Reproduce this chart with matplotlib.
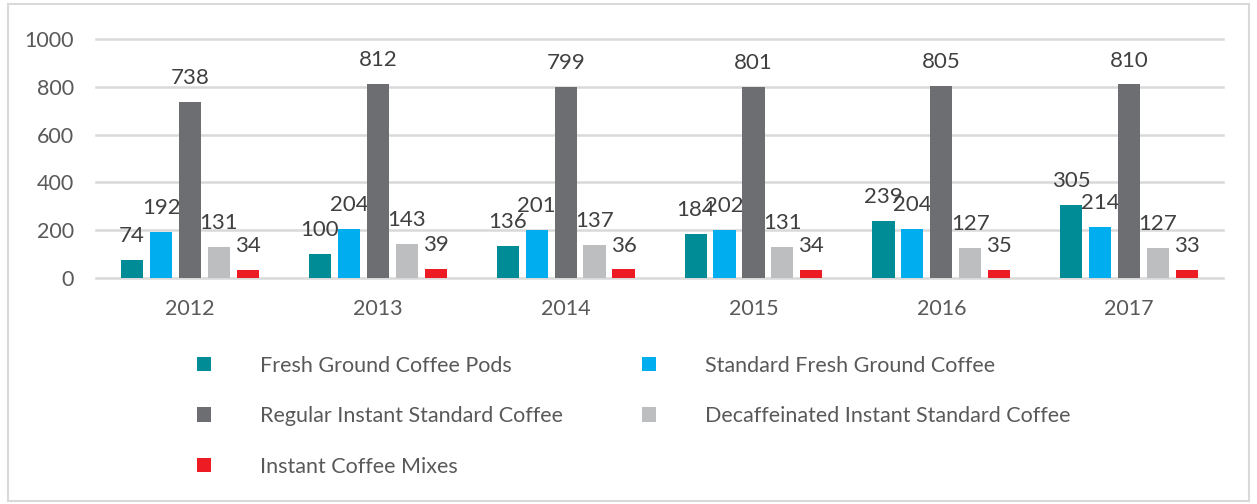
import numpy as np
import matplotlib
matplotlib.use("Agg")
from matplotlib import pyplot as plt
from matplotlib.patches import Rectangle, Patch

years = ["2012", "2013", "2014", "2015", "2016", "2017"]
series_names = [
    "Fresh Ground Coffee Pods",
    "Standard Fresh Ground Coffee",
    "Regular Instant Standard Coffee",
    "Decaffeinated Instant Standard Coffee",
    "Instant Coffee Mixes",
]
pods = [74, 100, 136, 184, 239, 305]
standard_ground = [192, 204, 201, 202, 204, 214]
regular_instant = [738, 812, 799, 801, 805, 810]
decaf_instant = [131, 143, 137, 131, 127, 127]
instant_mixes = [34, 39, 36, 34, 35, 33]

colors = ["#008C96", "#00AEEF", "#6D6E71", "#BCBEC0", "#ED1C24"]
text_color = "#595959"

plt.rcParams["font.family"] = ["Lato", "DejaVu Sans"]

fig = plt.figure(figsize=(12.57, 5.04), dpi=100)
ax = fig.add_axes([0.0764, 0.4484, 0.8966, 0.4742])

# outer chart border
fig.patches.append(Rectangle((0.006, 0.006), 0.988, 0.986, transform=fig.transFigure,
                             fill=False, edgecolor="#D9D9D9", linewidth=1.5))

x = np.arange(len(years))
slot = 0.154
width = 0.118
all_series = [pods, standard_ground, regular_instant, decaf_instant, instant_mixes]

for i, (vals, c) in enumerate(zip(all_series, colors)):
    pos = x + (i - 2) * slot
    bars = ax.bar(pos, vals, width, color=c, zorder=3, label=series_names[i])
    for b, v in zip(bars, vals):
        ax.annotate(str(v), (b.get_x() + b.get_width() / 2, v), xytext=(0, 10),
                    textcoords="offset points", ha="center", va="bottom",
                    fontsize=16, color="#404040")

ax.set_xlim(-0.5, 5.5)
ax.set_ylim(0, 1000)
ax.set_yticks(range(0, 1001, 200))
ax.set_xticks(x)
ax.set_xticklabels(years)
ax.grid(axis="y", color="#D9D9D9", linewidth=1.8, zorder=0)
for s in ax.spines.values():
    s.set_visible(False)
ax.tick_params(axis="both", length=0, labelsize=15.5, labelcolor=text_color)
ax.tick_params(axis="y", pad=16)
ax.tick_params(axis="x", pad=15)
for gl in ax.get_ygridlines():
    gl.set_clip_on(False)

# legend, filled row-wise
handles = [Patch(facecolor=c) for c in colors]
order = [0, 2, 4, 1, 3]
leg = fig.legend([handles[i] for i in order], [series_names[i] for i in order],
                 ncol=2, loc="upper left", bbox_to_anchor=(0.1567, 0.294),
                 frameon=False, fontsize=15.5, handlelength=0.645, handleheight=0.645,
                 handletextpad=2.26, columnspacing=3.7, labelspacing=1.41,
                 borderpad=0, borderaxespad=0)
for t in leg.get_texts():
    t.set_color(text_color)

fig.savefig("out.png", dpi=100)
